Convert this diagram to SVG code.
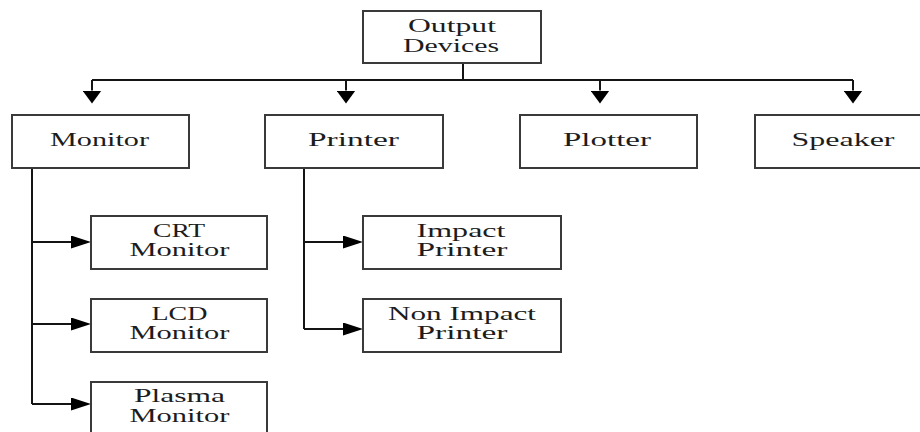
<svg xmlns="http://www.w3.org/2000/svg" width="920" height="432" viewBox="0 0 920 432">
  <defs>
    <style>
      .box { fill: #ffffff; stroke: #3a3a3a; stroke-width: 2; }
      .lbl { font-family: "Liberation Serif", "Times New Roman", serif; font-size: 18px; fill: #1c1c1c; }
      .wire { fill: none; stroke: #141414; stroke-width: 2; }
    </style>
    <!-- downward arrowhead: wide and short -->
    <marker id="arrow-down" markerUnits="userSpaceOnUse" viewBox="0 0 19 13" refX="9.5" refY="0" markerWidth="19" markerHeight="13" orient="0">
      <path d="M0 0 L19 0 L9.5 13 Z" fill="#000"/>
    </marker>
    <!-- rightward arrowhead -->
    <marker id="arrow-right" markerUnits="userSpaceOnUse" viewBox="0 0 20 13" refX="0" refY="6.5" markerWidth="20" markerHeight="13" orient="0">
      <path d="M0 0 L20 6.5 L0 13 Z" fill="#000"/>
    </marker>
  </defs>

  <rect width="920" height="432" fill="#ffffff"/>

  <g id="connectors">
    <!-- root fan-out -->
    <path class="wire" d="M463 63 V80"/>
    <path class="wire" d="M92 80 H853"/>
    <path class="wire" d="M92 80 V90.5" marker-end="url(#arrow-down)"/>
    <path class="wire" d="M346 80 V90.5" marker-end="url(#arrow-down)"/>
    <path class="wire" d="M600 80 V90.5" marker-end="url(#arrow-down)"/>
    <path class="wire" d="M853 80 V90.5" marker-end="url(#arrow-down)"/>
    <!-- monitor branches -->
    <path class="wire" d="M32 168 V404"/>
    <path class="wire" d="M32 242 H71" marker-end="url(#arrow-right)"/>
    <path class="wire" d="M32 324 H71" marker-end="url(#arrow-right)"/>
    <path class="wire" d="M32 404 H71" marker-end="url(#arrow-right)"/>
    <!-- printer branches -->
    <path class="wire" d="M304 168 V329"/>
    <path class="wire" d="M304 242 H343" marker-end="url(#arrow-right)"/>
    <path class="wire" d="M304 329 H343" marker-end="url(#arrow-right)"/>
  </g>

  <g id="output-devices">
    <rect class="box" x="363" y="11" width="178" height="52"/>
    <text class="lbl" x="408" y="31.5" textLength="88" lengthAdjust="spacingAndGlyphs">Output</text>
    <text class="lbl" x="403" y="51.5" textLength="96" lengthAdjust="spacingAndGlyphs">Devices</text>
  </g>

  <g id="monitor">
    <rect class="box" x="12" y="115" width="177" height="53"/>
    <text class="lbl" x="50" y="145.5" textLength="99" lengthAdjust="spacingAndGlyphs">Monitor</text>
  </g>

  <g id="printer">
    <rect class="box" x="265" y="115" width="178" height="53"/>
    <text class="lbl" x="308" y="145.5" textLength="91" lengthAdjust="spacingAndGlyphs">Printer</text>
  </g>

  <g id="plotter">
    <rect class="box" x="520" y="115" width="177" height="53"/>
    <text class="lbl" x="563" y="145.5" textLength="88" lengthAdjust="spacingAndGlyphs">Plotter</text>
  </g>

  <g id="speaker">
    <rect class="box" x="755" y="115" width="172" height="53"/>
    <text class="lbl" x="791.5" y="145.5" textLength="103" lengthAdjust="spacingAndGlyphs">Speaker</text>
  </g>

  <g id="crt-monitor">
    <rect class="box" x="91" y="216" width="176" height="53"/>
    <text class="lbl" x="153" y="237.3" textLength="52" lengthAdjust="spacingAndGlyphs">CRT</text>
    <text class="lbl" x="129.5" y="256" textLength="100" lengthAdjust="spacingAndGlyphs">Monitor</text>
  </g>

  <g id="lcd-monitor">
    <rect class="box" x="91" y="299" width="176" height="53"/>
    <text class="lbl" x="151.5" y="320" textLength="56" lengthAdjust="spacingAndGlyphs">LCD</text>
    <text class="lbl" x="129.5" y="339.3" textLength="100" lengthAdjust="spacingAndGlyphs">Monitor</text>
  </g>

  <g id="plasma-monitor">
    <rect class="box" x="91" y="382" width="176" height="60"/>
    <text class="lbl" x="134" y="402.3" textLength="91" lengthAdjust="spacingAndGlyphs">Plasma</text>
    <text class="lbl" x="129.5" y="422.3" textLength="100" lengthAdjust="spacingAndGlyphs">Monitor</text>
  </g>

  <g id="impact-printer">
    <rect class="box" x="363" y="216" width="198" height="53"/>
    <text class="lbl" x="416.5" y="237.3" textLength="89" lengthAdjust="spacingAndGlyphs">Impact</text>
    <text class="lbl" x="416.5" y="255.7" textLength="91" lengthAdjust="spacingAndGlyphs">Printer</text>
  </g>

  <g id="non-impact-printer">
    <rect class="box" x="363" y="299" width="198" height="53"/>
    <text class="lbl" x="388" y="320" textLength="148" lengthAdjust="spacingAndGlyphs">Non Impact</text>
    <text class="lbl" x="416.5" y="339.3" textLength="91" lengthAdjust="spacingAndGlyphs">Printer</text>
  </g>
</svg>
